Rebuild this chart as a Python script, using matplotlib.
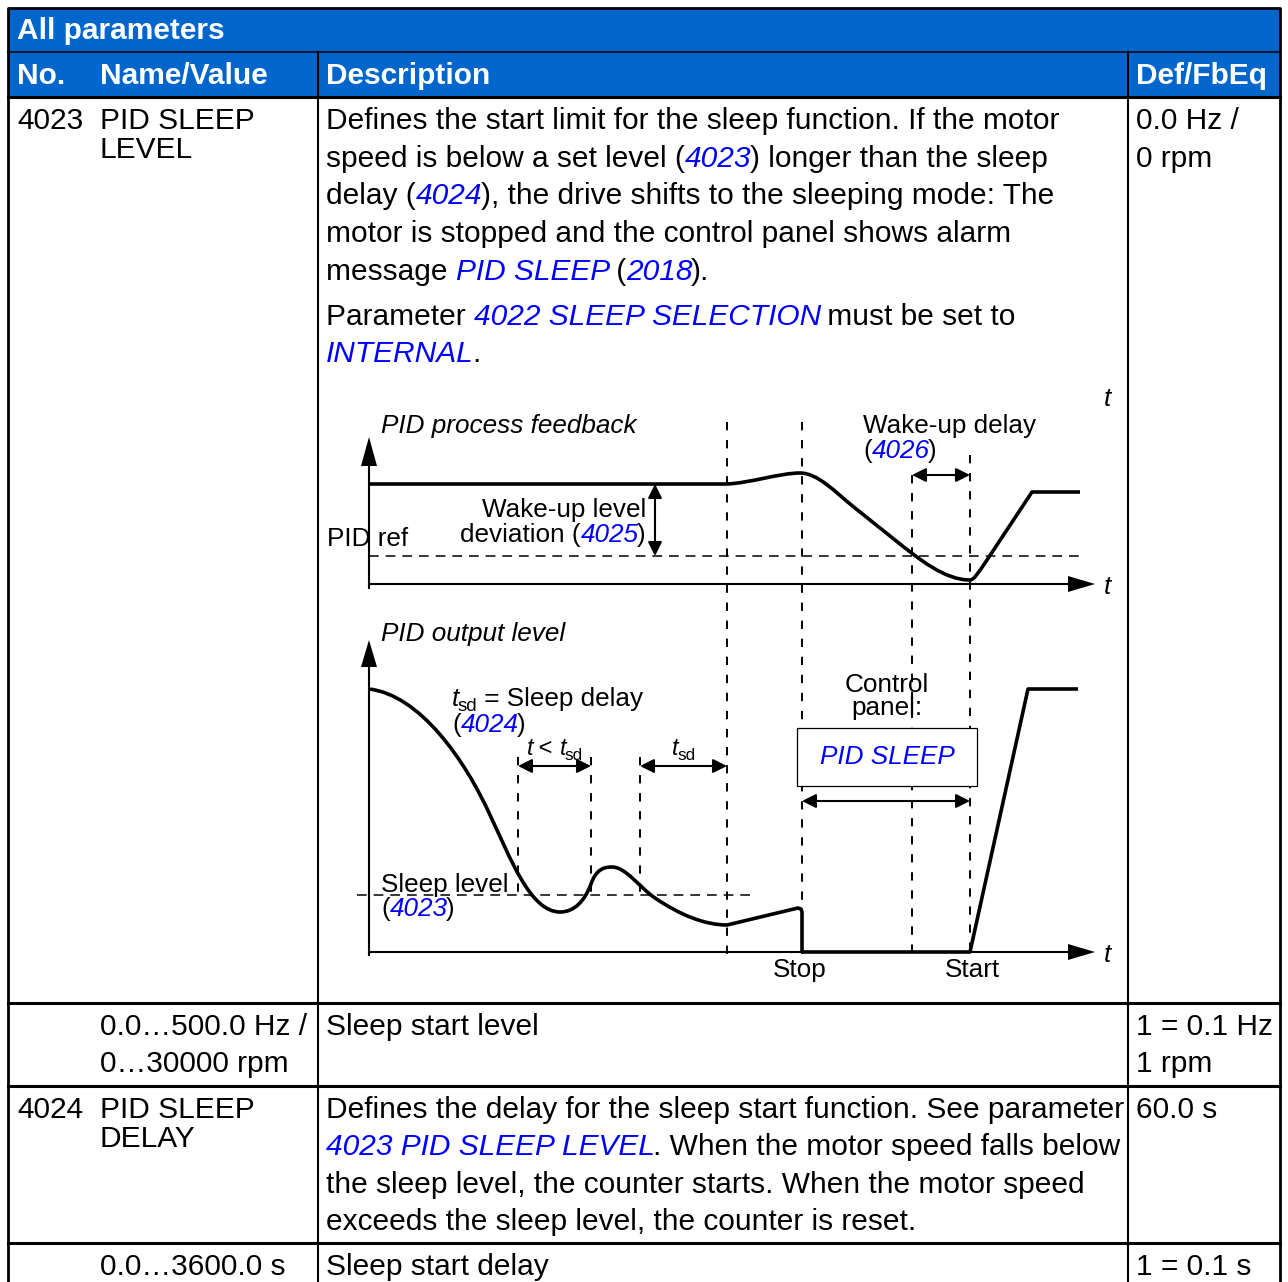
import matplotlib.pyplot as plt
from matplotlib.patches import Rectangle, Polygon, PathPatch
from matplotlib.path import Path

plt.rcParams['font.family'] = ['Liberation Sans', 'DejaVu Sans']
plt.rcParams['lines.scale_dashes'] = False

HEAD_BLUE = '#0066cc'
LINK = '#0000ff'
FS = 21.5   # table text
DFS = 18.8  # diagram text

# ---- table content ----
header_cols = ["No.", "Name/Value", "Description", "Def/FbEq"]
col_x = [17, 100, 326, 1136]

desc_4023 = [
    [("Defines the start limit for the sleep function. If the motor", 'n')],
    [("speed is below a set level (", 'n'), ("4023", 'l'), (") longer than the sleep", 'n')],
    [("delay (", 'n'), ("4024", 'l'), ("), the drive shifts to the sleeping mode: The", 'n')],
    [("motor is stopped and the control panel shows alarm", 'n')],
    [("message ", 'n'), ("PID SLEEP", 'l'), (" (", 'n'), ("2018", 'l'), (").", 'n')],
    [("Parameter ", 'n'), ("4022 SLEEP SELECTION", 'l'), (" must be set to", 'n')],
    [("INTERNAL", 'l'), (".", 'n')],
]
desc_4023_y = [129, 167, 204, 242, 280, 325, 362]

desc_4024 = [
    [("Defines the delay for the sleep start function. See parameter", 'n')],
    [("4023 PID SLEEP LEVEL", 'l'), (". When the motor speed falls below", 'n')],
    [("the sleep level, the counter starts. When the motor speed", 'n')],
    [("exceeds the sleep level, the counter is reset.", 'n')],
]
desc_4024_y = [1118, 1155, 1193, 1230]

# ---- diagram curves: path points (M move, L line, C bezier) ----
fb_pts = [(369, 484), (727, 484), (750, 483), (780, 473), (800, 473),
          (818, 473), (835, 492), (855, 508), (895, 540),
          (920, 560), (945, 580), (970, 580), (974, 580), (978, 573), (985, 563),
          (1032, 492), (1080, 492)]
fb_codes = "ML" + "C" * 6 + "L" + "C" * 6 + "LL"

out_pts = [(369, 689), (420, 695), (465, 760), (490, 815), (510, 857), (530, 912),
           (560, 912), (575, 912), (585, 900), (591, 884), (596, 870), (603, 867),
           (612, 867), (626, 867), (640, 888), (655, 898), (680, 915), (705, 925),
           (727, 925), (798, 908), (801, 909), (802, 912), (802, 952), (970, 952),
           (1028, 689), (1078, 689)]
out_codes = "M" + "C" * 18 + "L" * 7

fig = plt.figure(figsize=(12.88, 12.82), dpi=100)
ax = fig.add_axes([0, 0, 1, 1])
ax.set_xlim(0, 1288)
ax.set_ylim(1282, 0)
ax.axis('off')
R = fig.canvas.get_renderer()


def tw(s, size, style, weight='normal'):
    kw = dict(fontsize=size, fontstyle=style, fontweight=weight)
    a = ax.text(0, 0, 'x' + s + 'x', **kw)
    b = ax.text(0, 0, 'xx', **kw)
    w = a.get_window_extent(R).width - b.get_window_extent(R).width
    a.remove()
    b.remove()
    return w


def rich(x, y, parts, size=FS, ha='left'):
    items = []
    for s, kind in parts:
        sz, st, col, dy = size, 'normal', 'black', 0
        if kind == 'i':
            st = 'italic'
        elif kind == 'l':
            st, col = 'italic', LINK
        elif kind == 's':
            sz, dy = size * 0.72, size * 0.27
        w = tw(s, sz, st)
        if st == 'italic':
            w -= size * 0.08
        items.append((s, sz, st, col, dy, w))
    total = sum(it[5] for it in items)
    if ha == 'center':
        x -= total / 2
    elif ha == 'right':
        x -= total
    for s, sz, st, col, dy, w in items:
        ax.text(x, y + dy, s, fontsize=sz, fontstyle=st, color=col,
                va='baseline', ha='left', zorder=10)
        x += w


def make_path(pts, codes):
    cmap = {'M': Path.MOVETO, 'L': Path.LINETO, 'C': Path.CURVE4}
    return Path(pts, [cmap[c] for c in codes])


# ---- table frame ----
ax.add_patch(Rectangle((8, 8), 1272, 89, facecolor=HEAD_BLUE, edgecolor='none', zorder=0))
ax.plot([8, 1280], [52, 52], color='#0a1a33', lw=1.5)
for y in [97, 1003, 1086, 1243]:
    ax.plot([8, 1280], [y, y], color='black', lw=2.2)
for x in [318, 1128]:
    ax.plot([x, x], [52, 1282], color='black', lw=1.5)
ax.plot([8, 8, 1280, 1280], [1282, 8, 8, 1282], color='black', lw=2)

ax.text(17, 39, "All parameters", color='white', fontsize=FS, fontweight='bold', va='baseline')
for cx, lab in zip(col_x, header_cols):
    ax.text(cx, 84, lab, color='white', fontsize=FS, fontweight='bold', va='baseline')

# row 4023
ax.text(17, 129, "4023", fontsize=FS, va='baseline')
ax.text(100, 129, "PID SLEEP", fontsize=FS, va='baseline')
ax.text(100, 158, "LEVEL", fontsize=FS, va='baseline')
ax.text(1136, 129, "0.0 Hz /", fontsize=FS, va='baseline')
ax.text(1136, 167, "0 rpm", fontsize=FS, va='baseline')
for parts, y in zip(desc_4023, desc_4023_y):
    rich(326, y, parts)

ax.text(100, 1035, "0.0\u2026500.0 Hz /", fontsize=FS, va='baseline')
ax.text(100, 1072, "0\u202630000 rpm", fontsize=FS, va='baseline')
ax.text(326, 1035, "Sleep start level", fontsize=FS, va='baseline')
ax.text(1136, 1035, "1 = 0.1 Hz", fontsize=FS, va='baseline')
ax.text(1136, 1072, "1 rpm", fontsize=FS, va='baseline')

# row 4024
ax.text(17, 1118, "4024", fontsize=FS, va='baseline')
ax.text(100, 1118, "PID SLEEP", fontsize=FS, va='baseline')
ax.text(100, 1147, "DELAY", fontsize=FS, va='baseline')
ax.text(1136, 1118, "60.0 s", fontsize=FS, va='baseline')
for parts, y in zip(desc_4024, desc_4024_y):
    rich(326, y, parts)

ax.text(100, 1275, "0.0\u20263600.0 s", fontsize=FS, va='baseline')
ax.text(326, 1275, "Sleep start delay", fontsize=FS, va='baseline')
ax.text(1136, 1275, "1 = 0.1 s", fontsize=FS, va='baseline')

# ---- diagram ----
AX_LW = 1.5
ax.plot([369, 369], [466, 588], color='black', lw=AX_LW)
ax.plot([369, 1070], [584, 584], color='black', lw=AX_LW)
ax.plot([369, 369], [667, 955], color='black', lw=AX_LW)
ax.plot([369, 1070], [952, 952], color='black', lw=AX_LW)
for tri in [[(369, 437), (361, 466), (377, 466)],
            [(369, 640), (361, 667), (377, 667)],
            [(1095, 584), (1068, 576), (1068, 592)],
            [(1095, 952), (1068, 944), (1068, 960)]]:
    ax.add_patch(Polygon(tri, closed=True, facecolor='black', edgecolor='none'))

# dashed guide lines
vdash = dict(color='black', lw=1.4, dashes=(6, 7))
ax.plot([727, 727], [422, 955], **vdash)
ax.plot([802, 802], [422, 955], **vdash)
ax.plot([912, 912], [475, 955], **vdash)
ax.plot([970, 970], [455, 955], **vdash)
for x in [518, 591, 640]:
    ax.plot([x, x], [757, 893], **vdash)
hdash = dict(color='black', lw=1.1, dashes=(7, 5))
ax.plot([369, 1080], [556, 556], **hdash)
ax.plot([357, 750], [895, 895], **hdash)

# curves
for pts, codes in [(fb_pts, fb_codes), (out_pts, out_codes)]:
    ax.add_patch(PathPatch(make_path(pts, codes), facecolor='none', edgecolor='black',
                           lw=2.6, joinstyle='round', capstyle='butt', zorder=5))


def darrow(x0, y0, x1, y1):
    ax.annotate('', xy=(x1, y1), xytext=(x0, y0),
                arrowprops=dict(arrowstyle='<|-|>,head_length=0.6,head_width=0.3',
                                color='black', lw=1.5, mutation_scale=14,
                                shrinkA=0, shrinkB=0), zorder=6)


darrow(655, 484, 655, 556)
darrow(912, 475, 970, 475)
darrow(518, 766, 591, 766)
darrow(640, 766, 727, 766)
darrow(802, 801, 970, 801)

# panel box
ax.add_patch(Rectangle((797, 728), 180, 58, facecolor='white', edgecolor='black', lw=0.9, zorder=7))
rich(887, 764, [("PID SLEEP", 'l')], size=DFS, ha='center')

# diagram labels
rich(381, 433, [("PID process feedback", 'i')], size=DFS)
rich(1107, 406, [("t", 'i')], size=DFS, ha='center')
rich(863, 433, [("Wake-up delay", 'n')], size=DFS)
rich(863, 458, [("(", 'n'), ("4026", 'l'), (")", 'n')], size=DFS)
rich(646, 517, [("Wake-up level", 'n')], size=DFS, ha='right')
rich(646, 542, [("deviation (", 'n'), ("4025", 'l'), (")", 'n')], size=DFS, ha='right')
rich(327, 546, [("PID ref", 'n')], size=DFS)
rich(1107, 594, [("t", 'i')], size=DFS, ha='center')
rich(381, 641, [("PID output level", 'i')], size=DFS)
rich(452, 706, [("t", 'i'), ("sd", 's'), (" = Sleep delay", 'n')], size=DFS)
rich(452, 732, [("(", 'n'), ("4024", 'l'), (")", 'n')], size=DFS)
rich(887, 692, [("Control", 'n')], size=DFS, ha='center')
rich(887, 715, [("panel:", 'n')], size=DFS, ha='center')
rich(555, 755, [("t", 'i'), (" < ", 'n'), ("t", 'i'), ("sd", 's')], size=17, ha='center')
rich(684, 755, [("t", 'i'), ("sd", 's')], size=17, ha='center')
rich(381, 892, [("Sleep level", 'n')], size=DFS)
rich(381, 916, [("(", 'n'), ("4023", 'l'), (")", 'n')], size=DFS)
rich(800, 977, [("Stop", 'n')], size=DFS, ha='center')
rich(972, 977, [("Start", 'n')], size=DFS, ha='center')
rich(1107, 962, [("t", 'i')], size=DFS, ha='center')

fig.savefig('out.png', dpi=100)
